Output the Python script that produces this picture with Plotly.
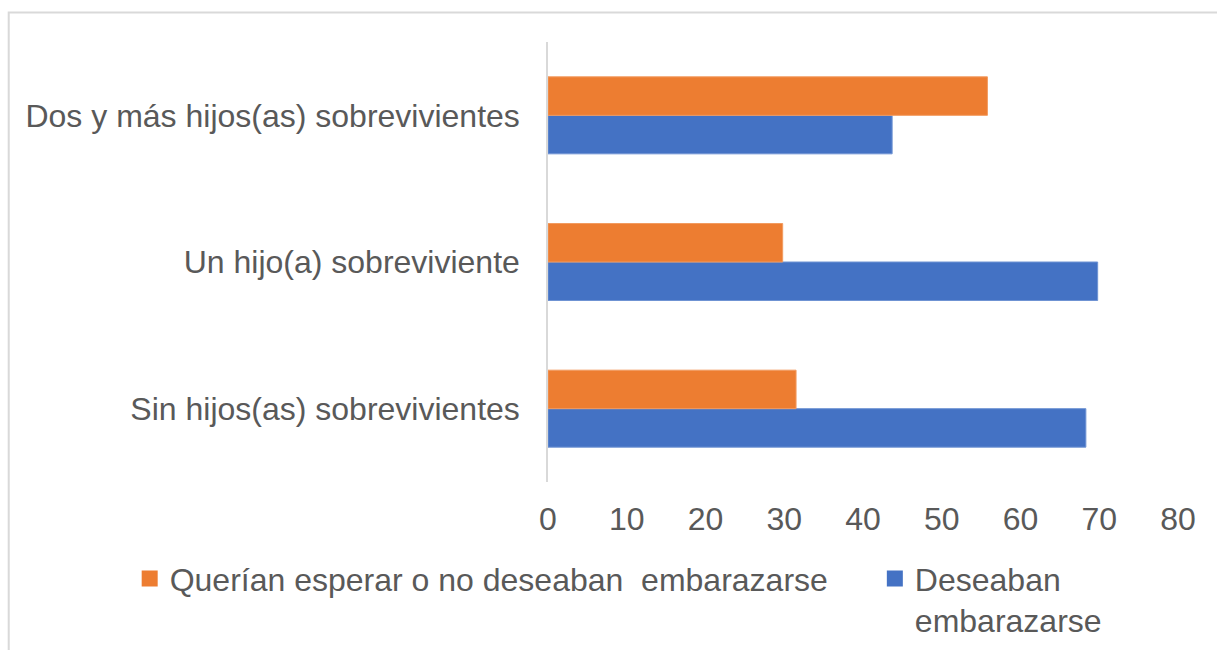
import plotly.graph_objects as go

categories = [
    "Sin hijos(as) sobrevivientes",
    "Un hijo(a) sobreviviente",
    "Dos y más hijos(as) sobrevivientes",
]
deseaban = [68.3, 69.8, 43.7]
no_deseaban = [31.5, 29.8, 55.8]
x_ticks = [0, 10, 20, 30, 40, 50, 60, 70, 80]
legend_names = [
    "Querían esperar o no deseaban\u00a0 embarazarse" + "\u00a0" * 4 + "\u2009",
    "Deseaban<br>embarazarse",
]

INK = "#595959"
FONT = "Liberation Sans, Arial, sans-serif"
BLUE = "#4472C4"
ORANGE = "#ED7D31"
SIZE = 32

fig = go.Figure()
fig.add_trace(
    go.Bar(
        y=categories,
        x=deseaban,
        orientation="h",
        name=legend_names[1],
        marker={"color": BLUE, "line": {"color": "#6f93d3", "width": 1}},
        showlegend=False,
    )
)
fig.add_trace(
    go.Bar(
        y=categories,
        x=no_deseaban,
        orientation="h",
        name=legend_names[0],
        marker={"color": ORANGE, "line": {"color": "#f29b60", "width": 1}},
        showlegend=False,
    )
)
# legend entries with larger square swatches, as in the source chart
for name, color, rank in [(legend_names[0], ORANGE, 1), (legend_names[1], BLUE, 2)]:
    fig.add_trace(
        go.Scatter(
            x=[None],
            y=[None],
            mode="markers",
            name=name,
            marker={"symbol": "square", "size": 16, "color": color},
            legendrank=rank,
            hoverinfo="skip",
        )
    )

fig.update_xaxes(
    range=[0, 80],
    tickvals=x_ticks,
    showgrid=False,
    zeroline=False,
    showline=False,
    ticks="",
    ticklabelstandoff=15,
    tickfont={"size": SIZE, "color": INK, "family": FONT},
)
fig.update_yaxes(
    categoryorder="array",
    categoryarray=categories,
    showgrid=False,
    zeroline=False,
    showline=True,
    linecolor="#d9d9d9",
    linewidth=1.5,
    ticks="",
    ticklabelstandoff=20,
    tickfont={"size": SIZE, "color": INK, "family": FONT},
)

fig.update_layout(
    width=1217,
    height=650,
    barmode="group",
    bargap=0.475,
    bargroupgap=0,
    plot_bgcolor="white",
    paper_bgcolor="white",
    font={"family": FONT, "color": INK, "size": SIZE},
    margin={"l": 548, "r": 39, "t": 42, "b": 167.5, "autoexpand": False},
    legend={
        "orientation": "h",
        "x": -0.664,
        "xanchor": "left",
        "y": -0.157,
        "yanchor": "top",
        "valign": "top",
        "itemsizing": "trace",
        "font": {"size": SIZE, "color": INK, "family": FONT},
        "bgcolor": "rgba(0,0,0,0)",
    },
    shapes=[
        # light chart-area frame, clipped by the page edges
        {
            "type": "rect",
            "xref": "paper",
            "yref": "paper",
            "x0": -0.856,
            "x1": 1.2,
            "y0": -0.6,
            "y1": 1.067,
            "line": {"color": "#d9d9d9", "width": 2},
            "fillcolor": "rgba(0,0,0,0)",
            "layer": "below",
        }
    ],
)

fig.write_html(
    "out.html",
    config={"displayModeBar": False},
    post_script="document.body.style.margin = '0';",
)
